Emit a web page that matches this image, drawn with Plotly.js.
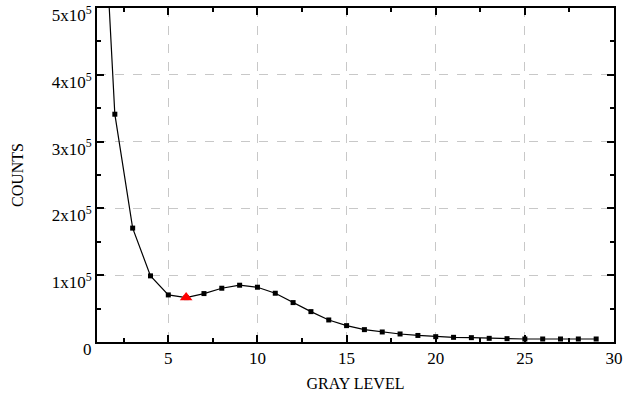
<!DOCTYPE html>
<html><head><meta charset="utf-8">
<script src="https://cdn.plot.ly/plotly-3.0.1.min.js"></script>
<style>body{margin:0;background:#fff}#c{width:625px;height:400px}</style>
</head><body><div id="c"></div>
<script>
const grayLevel = [1,2,3,4,5,6,7,8,9,10,11,12,13,14,15,16,17,18,19,20,21,22,23,24,25,26,27,28,29];
const counts = [850000,341000,170500,99000,70500,66500,72500,80500,85000,82000,73000,59000,45500,33000,24500,18500,15000,12000,9800,8000,7000,6500,5500,5000,4500,4500,4500,4500,4500];
const markedX = [6];
const markedY = [66500];
const yTickVals = [0,100000,200000,300000,400000,500000];
const yTickText = ['0','1x10<sup>5</sup>','2x10<sup>5</sup>','3x10<sup>5</sup>','4x10<sup>5</sup>','5x10<sup>5</sup>'];
const xTickVals = [5,10,15,20,25,30];

const font = {family:'Liberation Serif, Times New Roman, serif', size:17, color:'#000'};
const axisCommon = {
  showline:true, linecolor:'#000', linewidth:2, mirror:'allticks',
  ticks:'inside', ticklen:7, tickwidth:2, tickcolor:'#000000',
  showgrid:true, gridcolor:'#c8c8c8', griddash:'dash', gridwidth:1,
  zeroline:false, tickfont:font, ticklabeloverflow:'allow'
};
const data = [
  {x:grayLevel, y:counts, type:'scatter', mode:'lines+markers',
   line:{color:'#000', width:1.2}, marker:{symbol:'square', size:5, color:'#000'}},
  {x:markedX, y:markedY, type:'scatter', mode:'markers',
   marker:{symbol:'triangle-up', size:11, color:'#ff0000'}}
];
const layout = {
  width:625, height:400, showlegend:false,
  paper_bgcolor:'#fff', plot_bgcolor:'#fff',
  margin:{l:97, r:11, t:8, b:58},
  font:font,
  xaxis:Object.assign({}, axisCommon, {range:[1,30], tickmode:'array', tickvals:xTickVals,
    minor:{dtick:2.5, tick0:0, ticks:'inside', ticklen:4, tickwidth:1.5, tickcolor:'#000000', showgrid:false},
    title:{text:'GRAY LEVEL', font:{family:font.family, size:16, color:'#000'}, standoff:10}}),
  yaxis:Object.assign({}, axisCommon, {range:[0,500000], tickmode:'array', tickvals:yTickVals, ticktext:yTickText,
    ticklabelshift:7,
    minor:{dtick:50000, tick0:0, ticks:'inside', ticklen:4, tickwidth:1.5, tickcolor:'#000000', showgrid:false},
    title:{text:'COUNTS', font:{family:font.family, size:16, color:'#000'}, standoff:24}})
};
Plotly.newPlot('c', data, layout, {displayModeBar:false});
</script></body></html>
